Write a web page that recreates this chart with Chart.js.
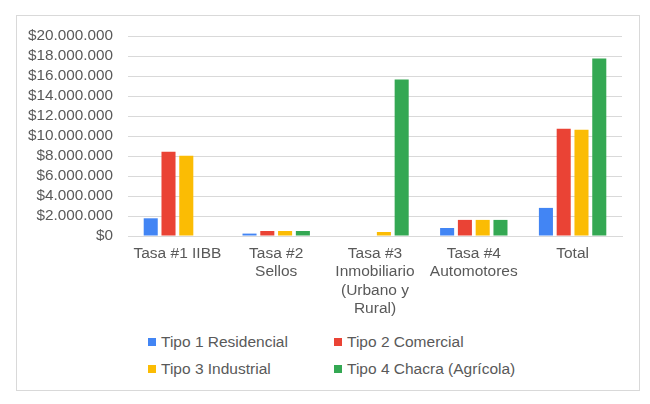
<!DOCTYPE html>
<html>
<head>
<meta charset="utf-8">
<script src="https://cdn.jsdelivr.net/npm/chart.js@4.4.1/dist/chart.umd.min.js"></script>
<style>
  html, body { margin: 0; padding: 0; background: #fff; }
  #wrap { position: relative; width: 650px; height: 404px; overflow: hidden; }
  #frame { position: absolute; left: 16px; top: 15px; width: 622px; height: 374px; border: 1px solid #d9d9d9; box-sizing: content-box; }
  #cv { position: absolute; left: 0; top: 0; }
  #legend { position: absolute; left: 0; top: 0; width: 650px; font-family: "Liberation Sans", Arial, sans-serif; font-size: 15.5px; color: #595959; }
  .item { position: absolute; white-space: nowrap; line-height: 18px; }
  .box { display: inline-block; width: 8px; height: 8px; margin-right: 5px; vertical-align: 1px; }
</style>
</head>
<body>
<div id="wrap">
  <div id="frame"></div>
  <div id="chartBox" style="position:absolute;left:0;top:0;width:650px;height:325px;">
    <canvas id="cv"></canvas>
  </div>
  <div id="legend"></div>
</div>
<script>
const categories = [
  ["Tasa #1 IIBB"],
  ["Tasa #2", "Sellos"],
  ["Tasa #3", "Inmobiliario", "(Urbano y", "Rural)"],
  ["Tasa #4", "Automotores"],
  ["Total"]
];
const seriesNames = ["Tipo 1 Residencial", "Tipo 2 Comercial", "Tipo 3 Industrial", "Tipo 4 Chacra (Agrícola)"];
const tipo1 = [1770000, 240000, 0, 800000, 2810000];
const tipo2 = [8430000, 500000, 0, 1610000, 10730000];
const tipo3 = [8030000, 500000, 400000, 1610000, 10630000];
const tipo4 = [0, 500000, 15640000, 1610000, 17740000];
const yTicks = [0, 2000000, 4000000, 6000000, 8000000, 10000000, 12000000, 14000000, 16000000, 18000000, 20000000];
const colors = ["#4285F4", "#EA4335", "#FBBC04", "#34A853"];

const seriesValues = [tipo1, tipo2, tipo3, tipo4];
const FONT = '"Liberation Sans", Arial, sans-serif';

function fmt(v) {
  return "$" + String(Math.round(v)).replace(/\B(?=(\d{3})+(?!\d))/g, ".");
}

const datasets = seriesNames.map((name, i) => ({
  label: name,
  data: seriesValues[i],
  backgroundColor: colors[i],
  borderWidth: 0,
  categoryPercentage: 0.72,
  barPercentage: 0.79
}));

new Chart(document.getElementById("cv"), {
  type: "bar",
  data: { labels: categories, datasets },
  options: {
    responsive: true,
    maintainAspectRatio: false,
    animation: false,
    layout: { padding: { top: 36, right: 28, left: 0, bottom: 0 } },
    plugins: { legend: { display: false }, tooltip: { enabled: false } },
    scales: {
      x: {
        grid: { display: false, drawTicks: false },
        border: { display: true, color: "#d9d9d9", width: 1 },
        ticks: {
          color: "#595959",
          font: { family: FONT, size: 15.5, lineHeight: 1.17 },
          padding: 9,
          maxRotation: 0,
          autoSkip: false
        },
        afterFit: (s) => { s.height = 89; }
      },
      y: {
        min: 0,
        max: 20000000,
        afterBuildTicks: (s) => { s.ticks = yTicks.map(v => ({ value: v })); },
        grid: { color: "#d9d9d9", lineWidth: 1, drawTicks: false },
        border: { display: false },
        ticks: {
          color: "#595959",
          font: { family: FONT, size: 15.3 },
          padding: 15,
          autoSkip: false,
          callback: (v) => fmt(v)
        },
        afterFit: (s) => { s.width = 128; }
      }
    }
  }
});

// HTML legend in two aligned columns
const legend = document.getElementById("legend");
const legendPos = [[148, 333], [334, 333], [148, 360], [334, 360]];
seriesNames.forEach((name, i) => {
  const d = document.createElement("div");
  d.className = "item";
  d.style.left = legendPos[i][0] + "px";
  d.style.top = legendPos[i][1] + "px";
  const b = document.createElement("span");
  b.className = "box";
  b.style.background = colors[i];
  d.appendChild(b);
  d.appendChild(document.createTextNode(name));
  legend.appendChild(d);
});
</script>
</body>
</html>
